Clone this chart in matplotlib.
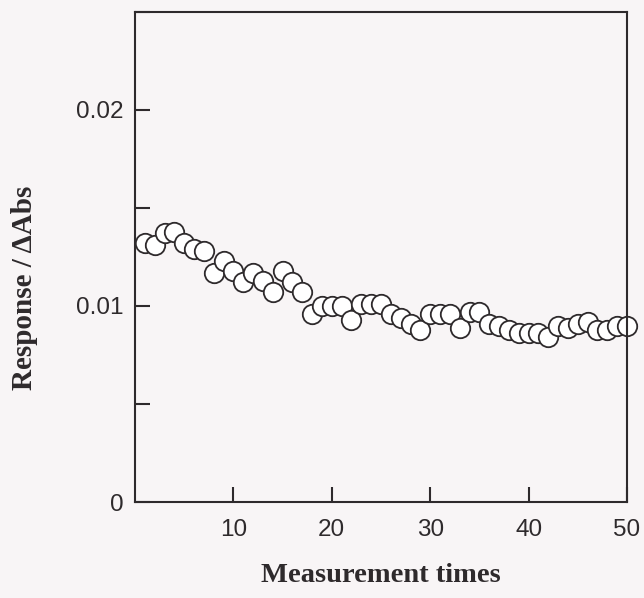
import matplotlib
matplotlib.use("Agg")
import matplotlib.pyplot as plt
from matplotlib.ticker import MultipleLocator, FuncFormatter

# -------------------------------
# Daten
# -------------------------------
measurement = list(range(1, 51))
response = [
    0.0132, 0.0131, 0.0137, 0.0138, 0.0132, 0.0129, 0.0128, 0.0117, 0.0123, 0.0118,
    0.0112, 0.0117, 0.0113, 0.0107, 0.0118, 0.0112, 0.0107, 0.0096, 0.0100, 0.0100,
    0.0100, 0.0093, 0.0101, 0.0101, 0.0101, 0.0096, 0.0094, 0.0091, 0.0088, 0.0096,
    0.0096, 0.0096, 0.0089, 0.0097, 0.0097, 0.0091, 0.0090, 0.0088, 0.0086, 0.0086,
    0.0086, 0.0084, 0.0090, 0.0089, 0.0091, 0.0092, 0.0088, 0.0088, 0.0090, 0.0090,
]
x_ticks = [10, 20, 30, 40, 50]

ink = "#2e2a2c"
bg = "#f8f5f6"

fig = plt.figure(figsize=(6.44, 5.98), dpi=100, facecolor=bg)
ax = fig.add_axes([0.2096, 0.1605, 0.7640, 0.8195])
ax.set_facecolor(bg)

ax.plot(measurement, response, linestyle="none", marker="o", markersize=14,
        markerfacecolor="white", markeredgecolor=ink, markeredgewidth=1.3,
        clip_on=False)

ax.set_xlim(0, 50)
ax.set_ylim(0, 0.025)
ax.set_xticks(x_ticks)
ax.yaxis.set_major_locator(MultipleLocator(0.005))

def ylab(v, pos):
    if abs(v) < 1e-9:
        return "0"
    if abs(round(v / 0.01) * 0.01 - v) < 1e-9:
        return f"{v:.2f}"
    return ""

ax.yaxis.set_major_formatter(FuncFormatter(ylab))

for s in ax.spines.values():
    s.set_color(ink)
    s.set_linewidth(1.5)

ax.tick_params(axis="both", direction="in", length=11, width=1.5, color=ink,
               labelsize=17.5, labelcolor=ink)
ax.tick_params(axis="x", pad=12)
ax.tick_params(axis="y", pad=8)
for lbl in ax.get_xticklabels() + ax.get_yticklabels():
    lbl.set_family("Liberation Sans")

ax.set_xlabel("Measurement times", family="Liberation Serif", fontweight="bold",
              fontsize=20.5, color=ink)
ax.set_ylabel("Response / ΔAbs", family="Liberation Serif", fontweight="bold",
              fontsize=21, color=ink)
ax.xaxis.set_label_coords(0.5, -0.125)
ax.yaxis.set_label_coords(-0.198, 0.437)

plt.savefig("out.png", dpi=100, facecolor=bg)
